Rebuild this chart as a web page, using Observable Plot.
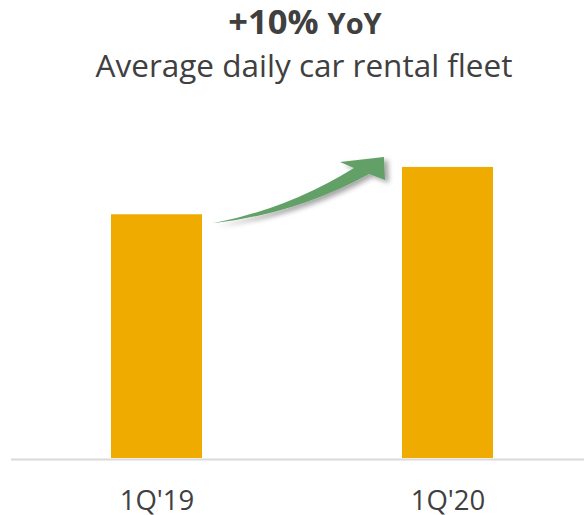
<!DOCTYPE html>
<html>
<head>
<meta charset="utf-8">
<script src="https://cdn.jsdelivr.net/npm/d3@7"></script>
<script src="https://cdn.jsdelivr.net/npm/@observablehq/plot@0.6"></script>
<style>
  html, body { margin: 0; padding: 0; background: #fff; }
  body { width: 584px; height: 515px; overflow: hidden; font-family: "Open Sans", sans-serif; color: #404040; }
  #head { position: relative; width: 584px; height: 95px; }
  #title { position: absolute; left: 26px; width: 558px; top: 3.5px; text-align: center; font-weight: 700; font-size: 34.5px; line-height: 34.5px; white-space: nowrap; }
  #title .yoy { font-size: 29px; }
  #subtitle { position: absolute; left: 24px; width: 560px; top: 48.5px; text-align: center; font-size: 31.5px; line-height: 31.5px; white-space: nowrap; }
  #chart svg { display: block; }
</style>
</head>
<body>
<div id="head">
  <div id="title"></div>
  <div id="subtitle"></div>
</div>
<div id="chart"></div>
<script>
// Data
const categories = ["1Q'19", "1Q'20"];
const fleetIndex = [100, 110];        // average daily fleet, indexed (1Q'19 = 100)
const titleMain = "+10%";
const titleSuffix = "YoY";
const subtitleText = "Average daily car rental fleet";

document.getElementById("title").innerHTML = titleMain + ' <span class="yoy">' + titleSuffix + '</span>';
document.getElementById("subtitle").textContent = subtitleText;

const rows = categories.map((c, i) => ({ period: c, value: fleetIndex[i] }));

const yMin = 48.5, yMax = 125.2;

const chart = Plot.plot({
  width: 584,
  height: 420,
  marginLeft: 11,
  marginRight: 0,
  marginTop: 0,
  marginBottom: 57,
  style: { fontFamily: "Open Sans, sans-serif", color: "#404040", background: "#fff", overflow: "visible" },
  x: { domain: categories, paddingInner: 0.687, paddingOuter: 0.328, align: 0.524, label: null, tickSize: 0, tickPadding: 32 },
  y: { domain: [yMin, yMax], axis: null },
  marks: [
    Plot.ruleY([yMin], { stroke: "#D9D9D9", strokeWidth: 2, dy: 1 }),
    Plot.barY(rows, { x: "period", y1: yMin, y2: "value", fill: "#F0AB00" }),
    Plot.axisX({ tickSize: 0, tickPadding: 32, fontSize: 27.5, fill: "#404040", label: null })
  ]
});
document.getElementById("chart").appendChild(chart);

// Growth arrow, anchored to the bars through the plot's scales
const sx = chart.scale("x"), sy = chart.scale("y");
const bw = sx.bandwidth;
const ax = sx.apply(categories[0]) + bw, ay = sy.apply(fleetIndex[0]);
const bx = sx.apply(categories[1]), by = sy.apply(fleetIndex[1]);
const T = [ax + 11, ay + 9];
const P = [bx - 18, by - 10];
const H1 = [bx - 62, by - 5];
const H2 = [bx - 17, by + 13];
const U = [bx - 48, by + 1];
const L = [bx - 33, by + 7];
const C1 = [(T[0] + U[0]) / 2 + 5, (T[1] + U[1]) / 2 + 13];
const C2 = [(T[0] + L[0]) / 2 + 6, (T[1] + L[1]) / 2 + 15];
const svg = d3.select(chart);
const defs = svg.append("defs");
const f = defs.append("filter").attr("id", "shadow").attr("x", "-20%").attr("y", "-40%").attr("width", "150%").attr("height", "200%");
f.append("feDropShadow").attr("dx", 4).attr("dy", 3).attr("stdDeviation", 2.5).attr("flood-color", "#000").attr("flood-opacity", 0.35);
const p = d3.path();
p.moveTo(...T);
p.quadraticCurveTo(...C1, ...U);
p.lineTo(...H1);
p.lineTo(...P);
p.lineTo(...H2);
p.lineTo(...L);
p.quadraticCurveTo(...C2, ...T);
p.closePath();
svg.append("path").attr("d", p.toString()).attr("fill", "#62A067").attr("filter", "url(#shadow)");
</script>
</body>
</html>
